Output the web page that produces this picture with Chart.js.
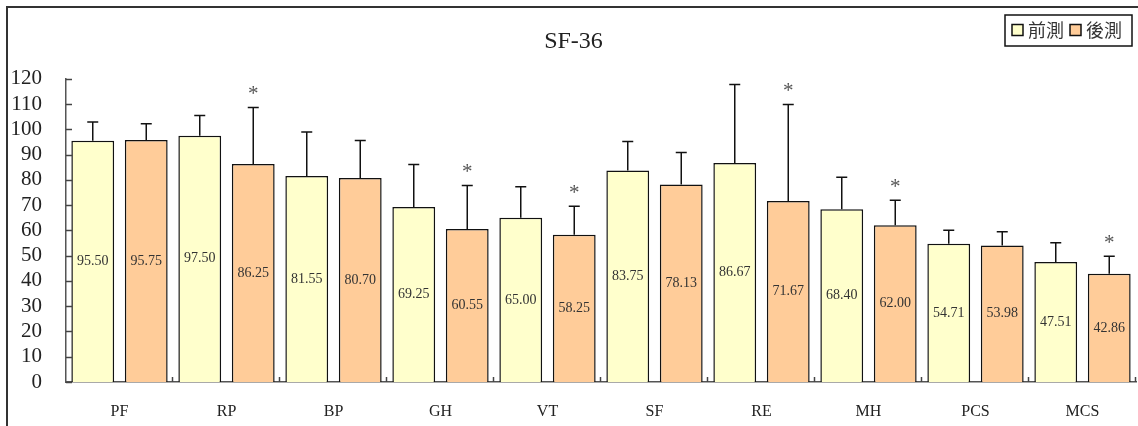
<!DOCTYPE html>
<html>
  <head>
    <meta charset="utf-8" />
    <script src="https://cdn.jsdelivr.net/npm/chart.js"></script>
    <style>
      html, body { margin: 0; padding: 0; background: #fff; }
      #wrap { width: 1138px; height: 426px; }
    </style>
  </head>
  <body>
    <div id="wrap"><canvas id="chart"></canvas></div>
    <script>
      const categories = ['PF', 'RP', 'BP', 'GH', 'VT', 'SF', 'RE', 'MH', 'PCS', 'MCS'];
      const seriesNames = ['前測', '後測'];
      const preValues = [95.50, 97.50, 81.55, 69.25, 65.00, 83.75, 86.67, 68.40, 54.71, 47.51];
      const postValues = [95.75, 86.25, 80.70, 60.55, 58.25, 78.13, 71.67, 62.00, 53.98, 42.86];
      // standard deviations
      const preSD = [7.4, 8.0, 17.4, 16.8, 12.3, 11.4, 31.1, 12.6, 5.3, 7.6];
      const postSD = [6.5, 22.4, 14.9, 17.2, 11.3, 12.7, 38.2, 9.9, 5.5, 6.9];
      const significant = [false, true, false, true, true, false, true, true, false, true];
      const yTicks = [0, 10, 20, 30, 40, 50, 60, 70, 80, 90, 100, 110, 120];

      const serif = "'Liberation Serif', 'Times New Roman', serif";
      const cjk = "'Noto Sans CJK TC', 'Noto Sans CJK SC', sans-serif";

      // outer frame, error bars, value labels, stars, inner ticks and legend
      const extras = {
        id: 'extras',
        beforeDraw(chart) {
          const ctx = chart.ctx;
          ctx.save();
          ctx.strokeStyle = '#333';
          ctx.lineWidth = 2;
          ctx.beginPath();
          ctx.moveTo(7, chart.height + 5);
          ctx.lineTo(7, 7);
          ctx.lineTo(chart.width + 5, 7);
          ctx.stroke();
          ctx.restore();
        },
        afterDatasetsDraw(chart) {
          const ctx = chart.ctx;
          const y = chart.scales.y;
          const x = chart.scales.x;
          const sds = [preSD, postSD];
          ctx.save();

          // inner ticks on y axis
          ctx.strokeStyle = '#444';
          ctx.lineWidth = 1.5;
          yTicks.forEach(v => {
            const py = Math.round(y.getPixelForValue(v)) + 0.5;
            ctx.beginPath();
            ctx.moveTo(x.left, py);
            ctx.lineTo(x.left + 6, py);
            ctx.stroke();
          });
          // category separators on x axis
          const step = x.width / categories.length;
          for (let i = 1; i <= categories.length; i++) {
            const px = Math.round(x.getPixelForTick(i - 1) + step / 2) - 0.5;
            ctx.beginPath();
            ctx.moveTo(px, y.bottom);
            ctx.lineTo(px, y.bottom - 5);
            ctx.stroke();
          }

          chart.data.datasets.forEach((ds, di) => {
            const meta = chart.getDatasetMeta(di);
            meta.data.forEach((bar, i) => {
              const top = y.getPixelForValue(ds.data[i] + sds[di][i]);
              // error bar
              ctx.strokeStyle = '#111';
              ctx.lineWidth = 1.5;
              ctx.beginPath();
              ctx.moveTo(bar.x, bar.y);
              ctx.lineTo(bar.x, top);
              ctx.moveTo(bar.x - 5.5, top);
              ctx.lineTo(bar.x + 5.5, top);
              ctx.stroke();
              // value label
              ctx.fillStyle = '#333';
              ctx.font = '14px ' + serif;
              ctx.textAlign = 'center';
              ctx.textBaseline = 'middle';
              ctx.fillText(ds.data[i].toFixed(2), bar.x, (bar.y + bar.base) / 2);
              // significance star
              if (di === 1 && significant[i]) {
                ctx.fillStyle = '#555';
                ctx.font = '21px ' + serif;
                ctx.textBaseline = 'middle';
                ctx.fillText('*', bar.x, top - 13);
              }
            });
          });
          ctx.restore();
        },
        afterDraw(chart) {
          const ctx = chart.ctx;
          ctx.save();
          const boxRight = chart.width - 6;
          const boxTop = 15;
          const boxH = 31;
          ctx.font = '18px ' + cjk;
          const itemW = seriesNames.map(n => 12 + 4 + ctx.measureText(n).width);
          const boxW = 7 + itemW[0] + 6 + itemW[1] + 10;
          const boxLeft = boxRight - boxW;
          ctx.fillStyle = '#fff';
          ctx.fillRect(boxLeft, boxTop, boxW, boxH);
          ctx.strokeStyle = '#111';
          ctx.lineWidth = 1.5;
          ctx.strokeRect(boxLeft, boxTop, boxW, boxH);
          let cx = boxLeft + 7;
          const cy = boxTop + boxH / 2;
          chart.data.datasets.forEach((ds, di) => {
            ctx.fillStyle = ds.backgroundColor;
            ctx.fillRect(cx, cy - 6, 11, 11);
            ctx.strokeStyle = '#111';
            ctx.lineWidth = 1.5;
            ctx.strokeRect(cx, cy - 6, 11, 11);
            ctx.fillStyle = '#333';
            ctx.textAlign = 'left';
            ctx.textBaseline = 'middle';
            ctx.fillText(seriesNames[di], cx + 16, cy);
            cx += itemW[di] + 6;
          });
          ctx.restore();
        }
      };

      new Chart(document.getElementById('chart'), {
        type: 'bar',
        data: {
          labels: categories,
          datasets: [
            {
              label: seriesNames[0],
              data: preValues,
              backgroundColor: '#FFFFCC',
              borderColor: '#111',
              borderWidth: 1.5,
              categoryPercentage: 1.0,
              barPercentage: 0.8,
            },
            {
              label: seriesNames[1],
              data: postValues,
              backgroundColor: '#FFCC99',
              borderColor: '#111',
              borderWidth: 1.5,
              categoryPercentage: 1.0,
              barPercentage: 0.8,
            },
          ],
        },
        options: {
          responsive: true,
          maintainAspectRatio: false,
          animation: false,
          layout: {
            padding: { left: 11, right: 2, top: 0, bottom: 5 },
          },
          plugins: {
            legend: { display: false },
            tooltip: { enabled: false },
            title: {
              display: true,
              text: 'SF-36',
              color: '#222',
              font: { family: serif, size: 24, weight: 'normal' },
              padding: { top: 27, bottom: 23 },
            },
          },
          scales: {
            x: {
              grid: { display: false },
              border: { color: '#555', width: 1.5 },
              afterFit: (scale) => { scale.height = 39; },
              ticks: {
                color: '#222',
                padding: 12,
                font: { family: serif, size: 16 },
              },
            },
            y: {
              min: 0,
              max: 120,
              grid: { display: false, drawTicks: false },
              border: { color: '#555', width: 1.5 },
              afterBuildTicks: (scale) => {
                scale.ticks = yTicks.map(v => ({ value: v }));
              },
              afterFit: (scale) => { scale.width = 55; },
              ticks: {
                autoSkip: false,
                color: '#222',
                padding: 24,
                font: { family: serif, size: 21 },
              },
            },
          },
        },
        plugins: [extras],
      });
    </script>
  </body>
</html>
